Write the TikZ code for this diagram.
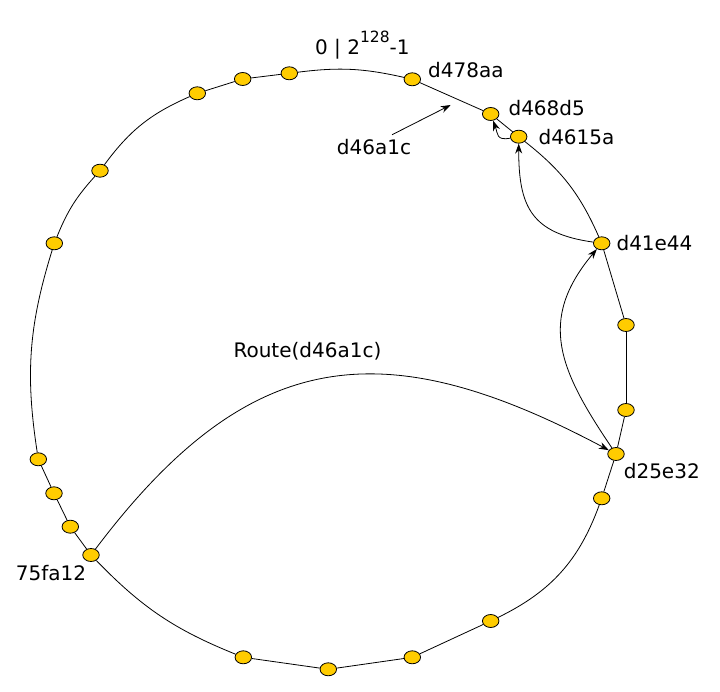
\documentclass[tikz,border=0pt]{standalone}
\usepackage{fontspec}
\setmainfont{DejaVu Sans}
\usepackage{tikz}
\usetikzlibrary{shapes.geometric,arrows.meta,positioning}
\definecolor{gold}{RGB}{255, 204, 0}
\tikzstyle{peer} = [ellipse, draw=black, line width=0.8pt, fill=gold, minimum width=16.5pt, minimum height=13pt, inner sep=0pt]
\tikzstyle{ring} = [draw, line width=0.8pt]
\tikzstyle{tedge}  = [draw, line width=0.8pt, >={Stealth[length=10pt,width=7pt]}, ->]
\tikzstyle{lbl} = [inner sep=0pt, font=\fontsize{20}{24}\selectfont]

\begin{document}
\begin{tikzpicture}[x=1pt, y=1pt]
\useasboundingbox (0,0) rectangle (720,-692);

% peers on the ring =============================

% top
\node[peer] (t1) at (289.3,-73.3) {};
\node[peer] (d478aa) at (412.3,-79.3) {};
\node[peer] (d468d5) at (490.7,-114) {};
\node[peer] (d4615a) at (518.7,-136.7) {};

% right side
\node[peer] (d41e44) at (601.7,-243.3) {};
\node[peer] (r1) at (626,-325) {};
\node[peer] (r2) at (626,-410) {};
\node[peer] (d25e32) at (616,-454) {};
\node[peer] (r3) at (601.7,-498.3) {};

% bottom
\node[peer] (b1) at (490.7,-621) {};
\node[peer] (b2) at (412.3,-657.3) {};
\node[peer] (b3) at (328.3,-669.3) {};
\node[peer] (b4) at (243.3,-657.3) {};

% left side
\node[peer] (n75fa12) at (91,-555) {};
\node[peer] (l1) at (70.3,-526.7) {};
\node[peer] (l2) at (54,-493.3) {};
\node[peer] (l3) at (38.3,-459.3) {};
\node[peer] (l4) at (54.3,-243.3) {};
\node[peer] (l5) at (100,-170.7) {};
\node[peer] (l6) at (197.3,-93.3) {};
\node[peer] (l7) at (242.7,-79) {};

% labels
\node[lbl, right=17pt of t1, anchor=base west, yshift=18.3pt] (zero) {0 | 2\raisebox{0.62em}{\fontsize{15.5}{18}\selectfont 128}-1};
\node[lbl, right=7pt of d478aa, yshift=9pt] (ld478aa) {d478aa};
\node[lbl, right=9pt of d468d5, yshift=6pt] (ld468d5) {d468d5};
\node[lbl, right=11pt of d4615a] (ld4615a) {d4615a};
\node[lbl, right=6pt of d41e44] (ld41e44) {d41e44};
\node[lbl, right=-1pt of d25e32, yshift=-16.7pt] (ld25e32) {d25e32};
\node[lbl, left=-4pt of n75fa12, yshift=-18pt] (l75fa12) {75fa12};
\node[lbl] (key) at (374,-146.7) {d46a1c};
\node[lbl, anchor=base west] (route) at (233.3,-357.3) {Route(d46a1c)};
\coordinate (keypos) at (450.7,-105);

% ring ==========================================
\path[ring] (l7) -- (t1);
\path[ring] (t1) to[bend left=10] (d478aa);
\path[ring] (d478aa) -- (d468d5);
\path[ring] (d468d5) -- (d4615a);
\path[ring] (d4615a) to[bend left=14] (d41e44);
\path[ring] (d41e44) -- (r1);
\path[ring] (r1) -- (r2);
\path[ring] (r2) -- (d25e32);
\path[ring] (d25e32) -- (r3);
\path[ring] (r3) to[bend left=22] (b1);
\path[ring] (b1) -- (b2);
\path[ring] (b2) -- (b3);
\path[ring] (b3) -- (b4);
\path[ring] (b4) to[bend left=12] (n75fa12);
\path[ring] (n75fa12) -- (l1);
\path[ring] (l1) -- (l2);
\path[ring] (l2) -- (l3);
\path[ring] (l3) to[bend left=13] (l4);
\path[ring] (l4) to[bend left=10] (l5);
\path[ring] (l5) to[bend left=15] (l6);
\path[ring] (l6) -- (l7);

% routing hops ==================================
\path[tedge] ([xshift=18pt,yshift=4pt]key.north) -- (keypos);
\path[tedge] (n75fa12) to[out=53, in=152, looseness=1.25] (d25e32);
\path[tedge] (d25e32) to[out=124, in=-130, looseness=1.2] (d41e44);
\path[tedge] (d41e44) to[out=172, in=-90, looseness=1.3] (d4615a);
\path[tedge] (d4615a) to[out=190, in=-70, looseness=1.5] (d468d5);

\end{tikzpicture}
\end{document}
